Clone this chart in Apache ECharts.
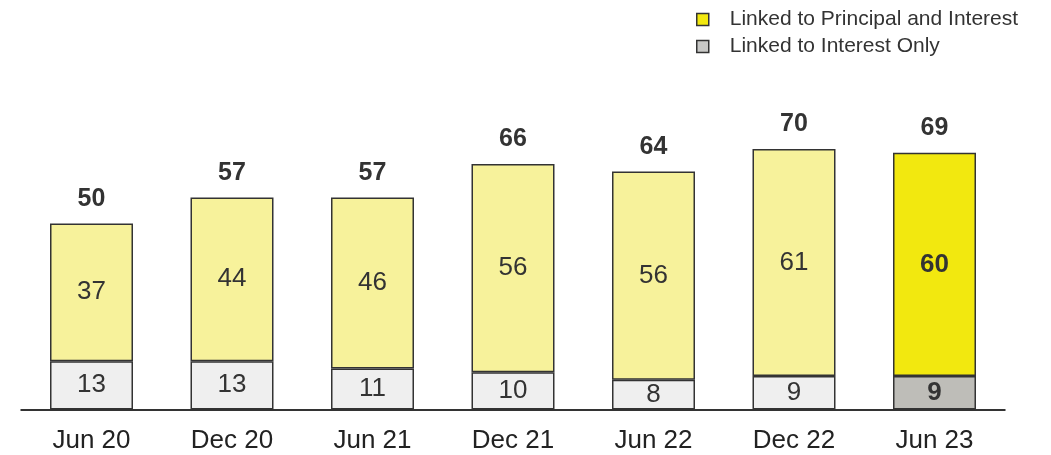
<!DOCTYPE html>
<html>
<head>
<meta charset="utf-8">
<script src="https://cdn.jsdelivr.net/npm/echarts@6/dist/echarts.min.js"></script>
<style>
  html, body { margin: 0; padding: 0; background: #fff; }
  #chart { width: 1051px; height: 455px; }
</style>
</head>
<body>
<div id="chart"></div>
<script>
(function () {

    var categories = ['Jun 20', 'Dec 20', 'Jun 21', 'Dec 21', 'Jun 22', 'Dec 22', 'Jun 23'];
    var interestOnly = [13, 13, 11, 10, 8, 9, 9];
    var principalInterest = [37, 44, 46, 56, 56, 61, 60];
    var totals = [50, 57, 57, 66, 64, 70, 69];

    var last = categories.length - 1;
    var font = 'Liberation Sans, Arial, sans-serif';

    // the latest period is drawn in stronger colours with bold labels
    function paint(values, pale, strong) {
        return values.map(function (v, i) {
            return {
                value: v,
                itemStyle: {color: i === last ? strong : pale},
                label: {fontWeight: i === last ? 'bold' : 'normal'}
            };
        });
    }

    let chart = echarts.init(document.getElementById('chart'));

    var option = {
        animation: false,
        backgroundColor: '#fff',
        legend: {
            orient: 'vertical',
            left: 691,
            top: 4,
            itemWidth: 12,
            itemHeight: 12,
            itemGap: 6,
            icon: 'rect',
            textStyle: {fontFamily: font, fontSize: 21, color: '#333', padding: [0, 0, 0, 16]},
            data: [
                {name: 'Linked to Principal and Interest', itemStyle: {color: '#F2E80F', borderColor: '#333', borderWidth: 1.5}},
                {name: 'Linked to Interest Only', itemStyle: {color: '#C8C8C6', borderColor: '#333', borderWidth: 1.5}}
            ]
        },
        grid: {left: 21.25, right: 46.25, top: 111.9, bottom: 45.5},
        xAxis: {
            type: 'category',
            data: categories,
            axisLine: {lineStyle: {color: '#333', width: 2}},
            axisTick: {show: false},
            axisLabel: {fontFamily: font, fontSize: 26, color: '#222', margin: 18}
        },
        yAxis: {
            type: 'value',
            min: 0,
            max: 80,
            show: false
        },
        series: [
            {
                name: 'Linked to Interest Only',
                type: 'bar',
                stack: 'all',
                barWidth: 83,
                data: paint(interestOnly, '#EFEFEF', '#BEBDB8'),
                itemStyle: {borderColor: '#333', borderWidth: 1.5},
                label: {show: true, position: 'inside', fontFamily: font, fontSize: 26, color: '#333'}
            },
            {
                name: 'Linked to Principal and Interest',
                type: 'bar',
                stack: 'all',
                barWidth: 83,
                data: paint(principalInterest, '#F7F29B', '#F2E80F'),
                itemStyle: {borderColor: '#333', borderWidth: 1.5},
                label: {show: true, position: 'inside', fontFamily: font, fontSize: 26, color: '#333'}
            },
            {
                // zero-height bar on top of the stack, only carries the total label
                name: 'Total',
                type: 'bar',
                stack: 'all',
                barWidth: 83,
                data: totals.map(function () { return 0; }),
                itemStyle: {color: 'transparent'},
                label: {
                    show: true,
                    position: 'top',
                    distance: 12,
                    fontFamily: font,
                    fontSize: 25,
                    fontWeight: 'bold',
                    color: '#333',
                    formatter: function (p) { return totals[p.dataIndex]; }
                }
            }
        ]
    };

    chart.setOption(option);
})();
</script>
</body>
</html>
